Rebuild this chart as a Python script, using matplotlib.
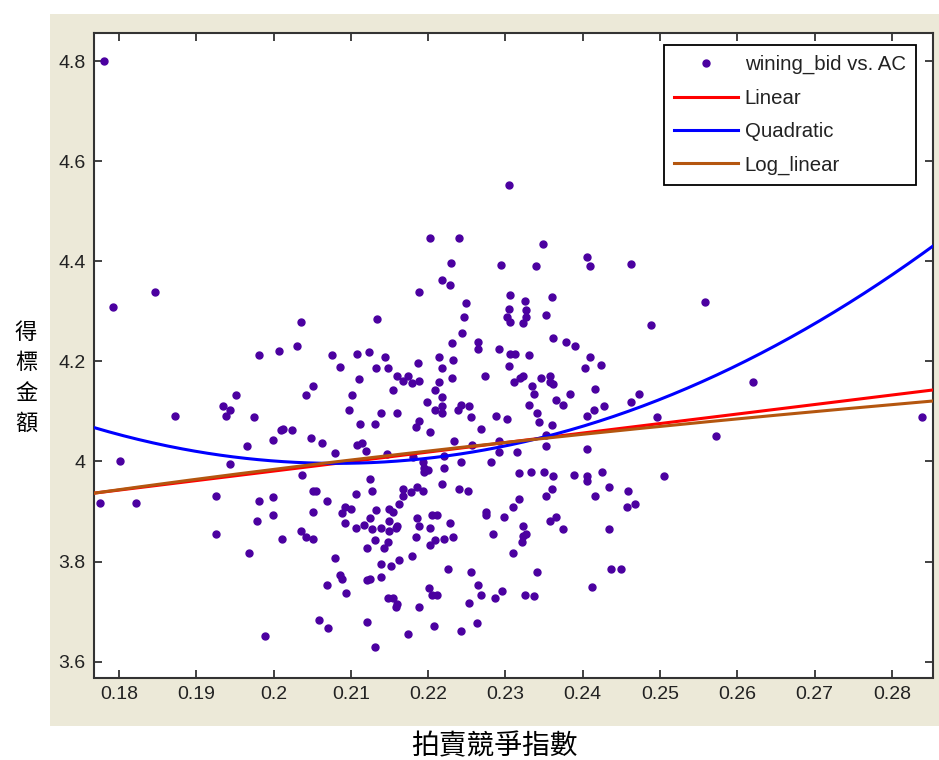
import numpy as np
import matplotlib
matplotlib.use("Agg")
import matplotlib.pyplot as plt
from matplotlib.patches import Rectangle

#%% data (auction competition index vs. winning bid)
ac = [0.1781, 0.1775, 0.1792, 0.1801, 0.1822, 0.1847, 0.1873, 0.2558, 0.2620, 0.2573,
      0.2839, 0.2505, 0.2036, 0.2134, 0.2188, 0.2304, 0.2202, 0.2240, 0.2348, 0.2405,
      0.2410, 0.2463, 0.2230, 0.2294, 0.2339, 0.2218, 0.2228, 0.2306, 0.2325, 0.2360,
      0.2249, 0.2304, 0.2327, 0.2302, 0.2327, 0.2353, 0.2246, 0.2306, 0.2323, 0.2488,
      0.2244, 0.2362, 0.1981, 0.2007, 0.2030, 0.2076, 0.2086, 0.2108, 0.2123, 0.2144,
      0.2132, 0.2148, 0.2187, 0.2111, 0.2160, 0.2174, 0.2168, 0.2179, 0.2188, 0.2051,
      0.2042, 0.1952, 0.2102, 0.2154, 0.1935, 0.1944, 0.1939, 0.1975, 0.2098, 0.2139,
      0.2160, 0.2112, 0.2131, 0.2188, 0.2184, 0.2010, 0.2012, 0.2024, 0.1999, 0.2048,
      0.2063, 0.2108, 0.2115, 0.2119, 0.2080, 0.1966, 0.1944, 0.2147, 0.2181, 0.2037,
      0.2125, 0.2127, 0.2051, 0.2055, 0.2106, 0.2168, 0.2186, 0.2178, 0.2167, 0.1925,
      0.1999, 0.1981, 0.2069, 0.2231, 0.2265, 0.2265, 0.2292, 0.2306, 0.2312, 0.2331,
      0.2378, 0.2390, 0.2410, 0.2424, 0.2403, 0.2214, 0.2232, 0.2218, 0.2304, 0.2274,
      0.2231, 0.2214, 0.2311, 0.2319, 0.2323, 0.2346, 0.2358, 0.2358, 0.2362, 0.2335,
      0.2209, 0.2218, 0.2199, 0.2337, 0.2383, 0.2416, 0.2366, 0.2375, 0.2331, 0.2473,
      0.2463, 0.2209, 0.2218, 0.2218, 0.2242, 0.2238, 0.2253, 0.2255, 0.2288, 0.2302,
      0.2341, 0.2344, 0.2414, 0.2428, 0.2405, 0.2496, 0.2360, 0.2353, 0.2269, 0.2203,
      0.2234, 0.2257, 0.2292, 0.2353, 0.2292, 0.2315, 0.2220, 0.2405, 0.2243, 0.2281,
      0.2193, 0.2195, 0.2200, 0.2194, 0.2220, 0.2317, 0.2333, 0.2350, 0.2362, 0.2389,
      0.2405, 0.2405, 0.2425, 0.2218, 0.2240, 0.2251, 0.2360, 0.2352, 0.2434, 0.2459,
      0.2416, 0.2317, 0.2193, 0.1999, 0.1979, 0.1925, 0.1968, 0.2011, 0.2051, 0.2036,
      0.2042, 0.2051, 0.2092, 0.2100, 0.2088, 0.2092, 0.2106, 0.2117, 0.2125, 0.2127,
      0.2133, 0.2149, 0.2155, 0.2162, 0.2139, 0.2149, 0.2149, 0.2160, 0.2158, 0.2186,
      0.2188, 0.2184, 0.2131, 0.2148, 0.2143, 0.2121, 0.2179, 0.2162, 0.2152, 0.2139,
      0.2080, 0.2086, 0.2088, 0.2069, 0.2094, 0.2121, 0.2125, 0.2139, 0.2148, 0.2155,
      0.2160, 0.2158, 0.2188, 0.2059, 0.2071, 0.2121, 0.1989, 0.2174, 0.2131, 0.2205,
      0.2212, 0.2203, 0.2228, 0.2209, 0.2203, 0.2220, 0.2232, 0.2275, 0.2275, 0.2298,
      0.2310, 0.2284, 0.2323, 0.2323, 0.2327, 0.2321, 0.2310, 0.2358, 0.2366, 0.2375,
      0.2434, 0.2457, 0.2468, 0.2226, 0.2255, 0.2201, 0.2205, 0.2212, 0.2265, 0.2269,
      0.2296, 0.2286, 0.2253, 0.2325, 0.2337, 0.2341, 0.2207, 0.2243, 0.2263, 0.2436,
      0.2449, 0.2412]

bid = [4.800, 3.917, 4.308, 4.001, 3.917, 4.338, 4.091, 4.318, 4.159, 4.051,
       4.089, 3.971, 4.278, 4.285, 4.339, 4.552, 4.447, 4.447, 4.435, 4.409,
       4.390, 4.394, 4.396, 4.393, 4.390, 4.362, 4.352, 4.332, 4.320, 4.328,
       4.317, 4.304, 4.302, 4.289, 4.288, 4.292, 4.288, 4.278, 4.276, 4.272,
       4.256, 4.246, 4.212, 4.221, 4.231, 4.212, 4.189, 4.215, 4.219, 4.209,
       4.186, 4.186, 4.196, 4.164, 4.171, 4.171, 4.161, 4.157, 4.161, 4.151,
       4.132, 4.132, 4.132, 4.142, 4.110, 4.103, 4.091, 4.088, 4.103, 4.097,
       4.097, 4.075, 4.075, 4.081, 4.068, 4.062, 4.065, 4.062, 4.043, 4.047,
       4.037, 4.033, 4.037, 4.021, 4.017, 4.031, 3.995, 4.015, 4.008, 3.973,
       3.964, 3.941, 3.941, 3.941, 3.935, 3.945, 3.948, 3.938, 3.932, 3.932,
       3.929, 3.921, 3.921, 4.237, 4.239, 4.225, 4.225, 4.215, 4.215, 4.212,
       4.238, 4.231, 4.209, 4.193, 4.187, 4.209, 4.203, 4.187, 4.190, 4.171,
       4.167, 4.158, 4.158, 4.167, 4.171, 4.167, 4.171, 4.158, 4.155, 4.151,
       4.142, 4.129, 4.119, 4.135, 4.135, 4.145, 4.123, 4.113, 4.113, 4.135,
       4.119, 4.103, 4.110, 4.097, 4.113, 4.103, 4.110, 4.088, 4.091, 4.085,
       4.097, 4.078, 4.103, 4.110, 4.091, 4.088, 4.072, 4.053, 4.065, 4.059,
       4.040, 4.033, 4.040, 4.031, 4.018, 4.018, 4.011, 4.024, 3.999, 3.999,
       3.999, 3.986, 3.983, 3.979, 3.986, 3.977, 3.979, 3.979, 3.970, 3.973,
       3.970, 3.961, 3.979, 3.954, 3.945, 3.941, 3.945, 3.932, 3.948, 3.941,
       3.932, 3.926, 3.941, 3.893, 3.881, 3.855, 3.817, 3.845, 3.900, 3.861,
       3.849, 3.845, 3.909, 3.906, 3.897, 3.877, 3.868, 3.874, 3.887, 3.865,
       3.903, 3.906, 3.899, 3.915, 3.868, 3.881, 3.861, 3.871, 3.868, 3.887,
       3.871, 3.849, 3.843, 3.839, 3.827, 3.827, 3.811, 3.804, 3.791, 3.795,
       3.807, 3.773, 3.765, 3.753, 3.738, 3.763, 3.766, 3.769, 3.728, 3.728,
       3.716, 3.709, 3.709, 3.684, 3.668, 3.680, 3.652, 3.655, 3.630, 3.893,
       3.893, 3.868, 3.877, 3.843, 3.833, 3.845, 3.849, 3.900, 3.893, 3.890,
       3.909, 3.855, 3.871, 3.852, 3.855, 3.839, 3.817, 3.881, 3.890, 3.865,
       3.865, 3.910, 3.915, 3.785, 3.779, 3.747, 3.734, 3.734, 3.753, 3.734,
       3.741, 3.728, 3.718, 3.734, 3.731, 3.779, 3.671, 3.661, 3.677, 3.785,
       3.785, 3.750]

# fitted curves (coefficients)
lin_coef = [1.899, 3.601]              # y = b*x + a
quad_coef = [72.8, -30.30, 7.149]      # y = c2*x^2 + c1*x + c0
loglin_coef = [0.3845, 4.603]          # y = b*ln(x) + a

x_ticks = [0.18, 0.19, 0.20, 0.21, 0.22, 0.23, 0.24, 0.25, 0.26, 0.27, 0.28]
x_ticklabels = ["0.18", "0.19", "0.2", "0.21", "0.22", "0.23", "0.24",
                "0.25", "0.26", "0.27", "0.28"]
y_ticks = [3.6, 3.8, 4.0, 4.2, 4.4, 4.6, 4.8]
y_ticklabels = ["3.6", "3.8", "4", "4.2", "4.4", "4.6", "4.8"]

x_lim = (0.17676, 0.28537)
y_lim = (3.5684, 4.8566)

#%% figure
W, H = 939, 760
fig = plt.figure(figsize=(W / 100, H / 100), dpi=100)
fig.patch.set_facecolor("white")

# beige matlab figure background (drawn behind the axes)
fig.patches.append(Rectangle((50 / W, 1 - 726 / H), 889 / W, 712 / H,
                             transform=fig.transFigure, facecolor="#ECE9D8",
                             edgecolor="none", zorder=-10))

ax = fig.add_axes([94 / W, 1 - 677.5 / H, (933.3 - 94) / W, (677.5 - 32.7) / H])
ax.set_facecolor("white")

xx = np.linspace(x_lim[0], x_lim[1], 400)

ax.plot(ac, bid, linestyle="none", marker="o", ms=5, color="#4B00A0",
        mec="#4B00A0", label="wining_bid vs. AC", zorder=2)
ax.plot(xx, np.polyval(lin_coef, xx), color="#FF0000", lw=2.2,
        label="Linear", zorder=3)
ax.plot(xx, np.polyval(quad_coef, xx), color="#0000FF", lw=2.2,
        label="Quadratic", zorder=3)
ax.plot(xx, loglin_coef[0] * np.log(xx) + loglin_coef[1], color="#B4560F",
        lw=2.2, label="Log_linear", zorder=4)

ax.set_xlim(x_lim)
ax.set_ylim(y_lim)
ax.set_xticks(x_ticks)
ax.set_xticklabels(x_ticklabels, family="Liberation Sans")
ax.set_yticks(y_ticks)
ax.set_yticklabels(y_ticklabels, family="Liberation Sans")

ax.tick_params(direction="in", length=6, width=1.3, top=True, right=True,
               labelsize=14, colors="#333333", labelcolor="#222222", pad=6)
for s in ax.spines.values():
    s.set_color("#333333")
    s.set_linewidth(1.5)

leg = ax.legend(loc="upper right", bbox_to_anchor=(916 / W, 1 - 45 / H),
                bbox_transform=fig.transFigure, borderaxespad=0,
                fancybox=False, framealpha=1, edgecolor="black",
                prop={"family": "Liberation Sans", "size": 14.7},
                handlelength=3.1, handletextpad=0.35, labelspacing=0.7,
                borderpad=0.5, numpoints=1)
leg.get_frame().set_linewidth(1.3)
for t in leg.get_texts():
    t.set_color("#222222")

# chinese axis labels
fig.text(26 / W, 1 - 378 / H, "得\n標\n金\n額", family=["Noto Sans CJK TC"],
         fontsize=16, ha="center", va="center", linespacing=1.4, color="black")
fig.text(494 / W, 1 - 746 / H, "拍賣競爭指數", family=["Noto Sans CJK TC"],
         fontsize=20, ha="center", va="center", color="black")

fig.savefig("out.png", dpi=100, facecolor=fig.get_facecolor())
